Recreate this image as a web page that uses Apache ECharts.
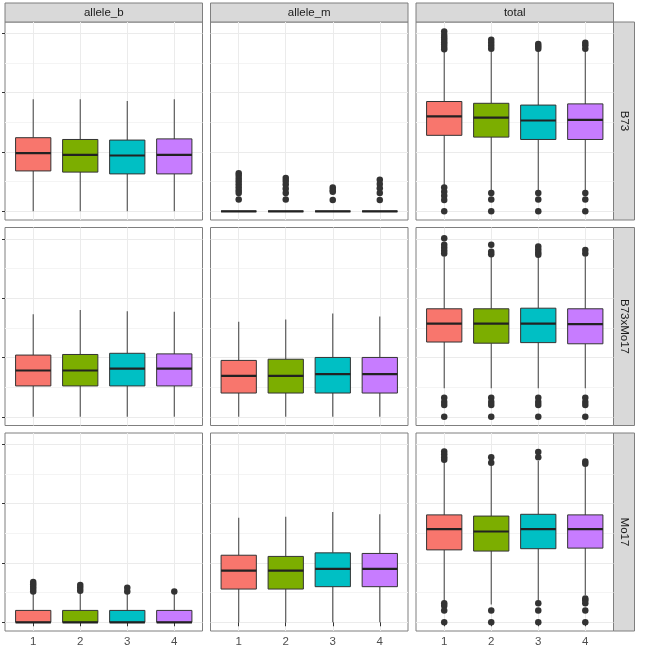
<!DOCTYPE html>
<html>
<head>
<meta charset="utf-8">
<script src="https://cdn.jsdelivr.net/npm/echarts@6/dist/echarts.min.js"></script>
<style>
html, body { margin: 0; padding: 0; background: #fff; }
#main { width: 645px; height: 648px; }
</style>
</head>
<body>
<div id="main"></div>
<script>
// facets
var categories = ['1', '2', '3', '4'];
var alleles = ['allele_b', 'allele_m', 'total'];
var genotypes = ['B73', 'B73xMo17', 'Mo17'];
var colors = ['#F8766D', '#7CAE00', '#00BFC4', '#C77CFF'];

// y ticks (labels are cut off in the original)
var yMajor = [0, 1, 2, 3];
var yMinor = [0.5, 1.5, 2.5];

// box stats per group: [lower whisker, q1, median, q3, upper whisker]
var b73_allele_b = [[0, 0.68, 0.98, 1.24, 1.89], [0, 0.66, 0.95, 1.21, 1.89], [0, 0.63, 0.94, 1.20, 1.86], [0, 0.63, 0.95, 1.22, 1.89]];
var b73_allele_m = [[0, 0, 0, 0, 0], [0, 0, 0, 0, 0], [0, 0, 0, 0, 0], [0, 0, 0, 0, 0]];
var b73_total = [[0.43, 1.28, 1.60, 1.85, 2.69], [0.36, 1.25, 1.58, 1.82, 2.69], [0.36, 1.21, 1.53, 1.79, 2.72], [0.36, 1.21, 1.54, 1.81, 2.72]];
var hyb_allele_b = [[0, 0.52, 0.78, 1.04, 1.73], [0, 0.52, 0.78, 1.05, 1.80], [0, 0.52, 0.81, 1.07, 1.78], [0, 0.52, 0.81, 1.06, 1.77]];
var hyb_allele_m = [[0, 0.40, 0.69, 0.95, 1.60], [0, 0.40, 0.69, 0.97, 1.64], [0, 0.40, 0.72, 1.00, 1.74], [0, 0.40, 0.72, 1.00, 1.69]];
var hyb_total = [[0.48, 1.26, 1.57, 1.82, 2.70], [0.48, 1.24, 1.57, 1.82, 2.70], [0.48, 1.25, 1.57, 1.83, 2.70], [0.48, 1.23, 1.56, 1.82, 2.70]];
var mo17_allele_b = [[0, 0, 0, 0.20, 0.50], [0, 0, 0, 0.20, 0.50], [0, 0, 0, 0.20, 0.50], [0, 0, 0, 0.20, 0.48]];
var mo17_allele_m = [[0, 0.56, 0.87, 1.13, 1.76], [0, 0.56, 0.87, 1.11, 1.78], [0, 0.60, 0.90, 1.17, 1.86], [0, 0.60, 0.90, 1.16, 1.82]];
var mo17_total = [[0.35, 1.22, 1.57, 1.81, 2.72], [0.30, 1.20, 1.53, 1.79, 2.65], [0.35, 1.24, 1.57, 1.82, 2.72], [0.46, 1.25, 1.57, 1.81, 2.66]];

// outliers per group
var b73_allele_b_out = [[], [], [], []];
var b73_allele_m_out = [[0.64, 0.60, 0.55, 0.50, 0.45, 0.40, 0.35, 0.31, 0.20], [0.56, 0.51, 0.45, 0.38, 0.31, 0.20], [0.40, 0.36, 0.33, 0.19], [0.53, 0.46, 0.39, 0.31, 0.19]];
var b73_total_out = [[3.03, 2.97, 2.93, 2.89, 2.85, 2.81, 2.77, 2.73, 0.40, 0.33, 0.26, 0.19, 0], [2.89, 2.84, 2.79, 2.74, 0.31, 0.20, 0], [2.82, 2.78, 2.74, 0.31, 0.20, 0], [2.84, 2.80, 2.74, 0.31, 0.20, 0]];
var hyb_allele_b_out = [[], [], [], []];
var hyb_allele_m_out = [[], [], [], []];
var hyb_total_out = [[3.01, 2.90, 2.85, 2.80, 2.75, 0.32, 0.25, 0.20, 0], [2.90, 2.78, 2.74, 0.32, 0.25, 0.20, 0], [2.87, 2.82, 2.77, 2.73, 0.32, 0.25, 0.20, 0], [2.81, 2.75, 0.32, 0.25, 0.20, 0]];
var mo17_allele_b_out = [[0.68, 0.64, 0.60, 0.56, 0.52], [0.63, 0.58, 0.53], [0.58, 0.52], [0.52]];
var mo17_allele_m_out = [[], [], [], []];
var mo17_total_out = [[2.88, 2.83, 2.78, 2.74, 0.32, 0.28, 0.20, 0], [2.78, 2.69, 0.20, 0], [2.87, 2.78, 0.32, 0.20, 0], [2.71, 2.67, 0.40, 0.37, 0.32, 0.20, 0]];

var boxes = [
    [b73_allele_b, b73_allele_m, b73_total],
    [hyb_allele_b, hyb_allele_m, hyb_total],
    [mo17_allele_b, mo17_allele_m, mo17_total]
];
var outliers = [
    [b73_allele_b_out, b73_allele_m_out, b73_total_out],
    [hyb_allele_b_out, hyb_allele_m_out, hyb_total_out],
    [mo17_allele_b_out, mo17_allele_m_out, mo17_total_out]
];

var colLeft = [5, 210.5, 416];
var rowTop = [22, 227.5, 433];
var panelW = 197.5, panelH = 198;
var yMin = -0.147, yMax = 3.19;
var font = 'Liberation Sans, Arial, sans-serif';

function renderBox(params, api) {
    var x = api.value(0);
    var hw = api.size([0.75, 0])[0] / 2;
    var pWl = api.coord([x, api.value(1)]);
    var pQ1 = api.coord([x, api.value(2)]);
    var pMed = api.coord([x, api.value(3)]);
    var pQ3 = api.coord([x, api.value(4)]);
    var pWh = api.coord([x, api.value(5)]);
    var lineStyle = {stroke: '#4d4d4d', lineWidth: 1.1};
    return {
        type: 'group',
        children: [
            {type: 'line', shape: {x1: pWh[0], y1: pWh[1], x2: pQ3[0], y2: pQ3[1]}, style: lineStyle},
            {type: 'line', shape: {x1: pQ1[0], y1: pQ1[1], x2: pWl[0], y2: pWl[1]}, style: lineStyle},
            {type: 'rect', shape: {x: pQ3[0] - hw, y: pQ3[1], width: hw * 2, height: pQ1[1] - pQ3[1]},
                style: {fill: colors[params.dataIndex], stroke: '#333333', lineWidth: 1}},
            {type: 'line', shape: {x1: pMed[0] - hw, y1: pMed[1], x2: pMed[0] + hw, y2: pMed[1]},
                style: {stroke: '#222222', lineWidth: 2.2}}
        ]
    };
}

var grids = [], xAxes = [], yAxes = [], series = [], graphics = [];

for (var r = 0; r < 3; r++) {
    for (var c = 0; c < 3; c++) {
        var idx = r * 3 + c;
        grids.push({
            left: colLeft[c], top: rowTop[r], width: panelW, height: panelH,
            show: true, backgroundColor: '#ffffff', borderColor: '#7f7f7f', borderWidth: 1
        });
        xAxes.push({
            type: 'value', gridIndex: idx, min: 0.4, max: 4.6,
            axisLine: {show: false},
            axisTick: {show: r === 2, customValues: [1, 2, 3, 4], length: 4, lineStyle: {color: '#333333'}},
            axisLabel: {show: r === 2, customValues: [1, 2, 3, 4], margin: 5, color: '#4d4d4d',
                fontSize: 11.5, fontFamily: font,
                formatter: function (v) { return categories[Math.round(v) - 1]; }},
            splitLine: {show: true, customValues: [1, 2, 3, 4], lineStyle: {color: '#ebebeb', width: 1}}
        });
        // major grid + ticks
        yAxes.push({
            type: 'value', gridIndex: idx, min: yMin, max: yMax,
            axisLine: {show: false},
            axisTick: {show: c === 0, customValues: yMajor, length: 3, lineStyle: {color: '#333333'}},
            axisLabel: {show: false, customValues: yMajor},
            splitLine: {show: true, customValues: yMajor, lineStyle: {color: '#ebebeb', width: 1}}
        });
        // minor grid
        yAxes.push({
            type: 'value', gridIndex: idx, min: yMin, max: yMax, position: 'left',
            axisLine: {show: false},
            axisTick: {show: false, customValues: yMinor},
            axisLabel: {show: false, customValues: yMinor},
            splitLine: {show: true, customValues: yMinor, lineStyle: {color: '#f4f4f4', width: 1}}
        });

        var stats = boxes[r][c];
        var boxData = stats.map(function (s, i) { return [i + 1].concat(s); });
        series.push({
            type: 'custom', xAxisIndex: idx, yAxisIndex: idx * 2,
            renderItem: renderBox,
            encode: {x: 0, y: [1, 2, 3, 4, 5]},
            data: boxData, z: 3
        });

        var outData = [];
        outliers[r][c].forEach(function (list, i) {
            list.forEach(function (v) { outData.push([i + 1, v]); });
        });
        series.push({
            type: 'scatter', xAxisIndex: idx, yAxisIndex: idx * 2,
            data: outData, symbolSize: 6.5,
            itemStyle: {color: '#333333', opacity: 1}, z: 4
        });
    }
}

// facet strips
for (var c = 0; c < 3; c++) {
    graphics.push({
        type: 'rect', shape: {x: colLeft[c], y: 3, width: panelW, height: 19},
        style: {fill: '#d9d9d9', stroke: '#7f7f7f', lineWidth: 1}
    });
    graphics.push({
        type: 'text', x: colLeft[c] + panelW / 2, y: 12.5,
        style: {text: alleles[c], textAlign: 'center', textVerticalAlign: 'middle',
            fill: '#1a1a1a', font: '11.5px ' + font}
    });
}
for (var r = 0; r < 3; r++) {
    graphics.push({
        type: 'rect', shape: {x: 613.5, y: rowTop[r], width: 21, height: panelH},
        style: {fill: '#d9d9d9', stroke: '#7f7f7f', lineWidth: 1}
    });
    graphics.push({
        type: 'text', x: 624, y: rowTop[r] + panelH / 2, rotation: -Math.PI / 2,
        style: {text: genotypes[r], textAlign: 'center', textVerticalAlign: 'middle',
            fill: '#1a1a1a', font: '11.5px ' + font}
    });
}

var myChart = echarts.init(document.getElementById('main'));
var option = {
    animation: false,
    backgroundColor: '#ffffff',
    grid: grids,
    xAxis: xAxes,
    yAxis: yAxes,
    series: series,
    graphic: {elements: graphics}
};
myChart.setOption(option);
</script>
</body>
</html>
